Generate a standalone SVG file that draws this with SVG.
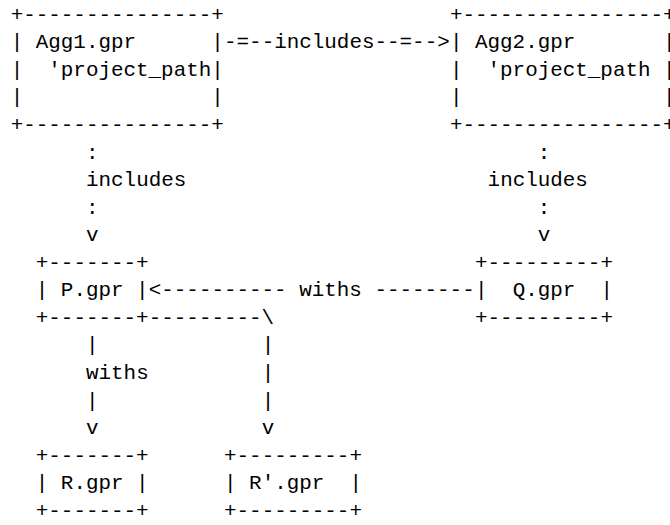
<svg xmlns="http://www.w3.org/2000/svg" width="670" height="525" viewBox="0 0 670 525" xml:space="preserve">
<style>
.t{font-family:"Liberation Mono","DejaVu Sans Mono",monospace;font-size:20.9px;fill:#000;white-space:pre}
</style>
<rect width="670" height="525" fill="#fff"/>
<g id="agg1" class="t">
<text x="10.7" y="20.8">+---------------+</text>
<text x="10.7" y="48.35">|&#160;Agg1.gpr&#160;&#160;&#160;&#160;&#160;&#160;|</text>
<text x="10.7" y="75.9">|&#160;&#160;'project_path|</text>
<text x="10.7" y="103.45">|&#160;&#160;&#160;&#160;&#160;&#160;&#160;&#160;&#160;&#160;&#160;&#160;&#160;&#160;&#160;|</text>
<text x="10.7" y="131">+---------------+</text>
</g>
<g id="agg2" class="t">
<text x="449.95" y="20.8">+----------------+</text>
<text x="449.95" y="48.35">|&#160;Agg2.gpr&#160;&#160;&#160;&#160;&#160;&#160;&#160;|</text>
<text x="449.95" y="75.9">|&#160;&#160;'project_path&#160;|</text>
<text x="449.95" y="103.45">|&#160;&#160;&#160;&#160;&#160;&#160;&#160;&#160;&#160;&#160;&#160;&#160;&#160;&#160;&#160;&#160;|</text>
<text x="449.95" y="131">+----------------+</text>
</g>
<g id="p" class="t">
<text x="35.8" y="268.75">+-------+</text>
<text x="35.8" y="296.3">|&#160;P.gpr&#160;|</text>
<text x="35.8" y="323.85">+-------+</text>
</g>
<g id="q" class="t">
<text x="475.05" y="268.75">+---------+</text>
<text x="475.05" y="296.3">|&#160;&#160;Q.gpr&#160;&#160;|</text>
<text x="475.05" y="323.85">+---------+</text>
</g>
<g id="r" class="t">
<text x="35.8" y="461.6">+-------+</text>
<text x="35.8" y="489.15">|&#160;R.gpr&#160;|</text>
<text x="35.8" y="516.7">+-------+</text>
</g>
<g id="rprime" class="t">
<text x="224.05" y="461.6">+---------+</text>
<text x="224.05" y="489.15">|&#160;R'.gpr&#160;&#160;|</text>
<text x="224.05" y="516.7">+---------+</text>
</g>
<g id="connectors" class="t">
<text x="224.05" y="48.35">-=--includes--=--&gt;</text>
<text x="86" y="158.55">:</text>
<text x="86" y="186.1">includes</text>
<text x="86" y="213.65">:</text>
<text x="86" y="241.2">v</text>
<text x="537.8" y="158.55">:</text>
<text x="487.6" y="186.1">includes</text>
<text x="537.8" y="213.65">:</text>
<text x="537.8" y="241.2">v</text>
<text x="148.75" y="296.3">&lt;----------&#160;withs&#160;--------</text>
<text x="148.75" y="323.85">---------\</text>
<text x="86" y="351.4">|</text>
<text x="86" y="378.95">withs</text>
<text x="86" y="406.5">|</text>
<text x="86" y="434.05">v</text>
<text x="261.7" y="351.4">|</text>
<text x="261.7" y="378.95">|</text>
<text x="261.7" y="406.5">|</text>
<text x="261.7" y="434.05">v</text>
</g>
</svg>
